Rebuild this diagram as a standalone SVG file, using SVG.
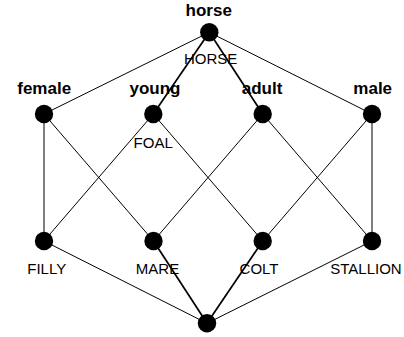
<svg xmlns="http://www.w3.org/2000/svg" width="404" height="337" viewBox="0 0 404 337">
<style>
.e{stroke:#000;stroke-width:1;fill:none}
.b{stroke:#000;stroke-width:1.7;fill:none}
.n{fill:#000}
.t{font-family:"Liberation Sans",Arial,sans-serif;font-size:17px;font-weight:bold;text-anchor:middle;fill:#000}
.o{font-family:"Liberation Sans",Arial,sans-serif;font-size:15px;text-anchor:middle;fill:#000}
</style>
<rect width="404" height="337" fill="#fff"/>
<g id="connectors">
<line class="e" x1="209.3" y1="32.3" x2="44" y2="114"/>
<line class="b" x1="209.3" y1="32.3" x2="153.3" y2="114"/>
<line class="b" x1="209.3" y1="32.3" x2="262.7" y2="114"/>
<line class="e" x1="209.3" y1="32.3" x2="372" y2="114"/>
<line class="e" x1="44" y1="114" x2="44" y2="241"/>
<line class="e" x1="44" y1="114" x2="153.5" y2="241"/>
<line class="e" x1="153.3" y1="114" x2="44" y2="241"/>
<line class="e" x1="153.3" y1="114" x2="262.7" y2="241"/>
<line class="e" x1="262.7" y1="114" x2="153.5" y2="241"/>
<line class="e" x1="262.7" y1="114" x2="372" y2="241"/>
<line class="e" x1="372" y1="114" x2="262.7" y2="241"/>
<line class="e" x1="372" y1="114" x2="372" y2="241"/>
<line class="e" x1="44" y1="241" x2="207" y2="323.3"/>
<line class="b" x1="153.5" y1="241" x2="207" y2="323.3"/>
<line class="b" x1="262.7" y1="241" x2="207" y2="323.3"/>
<line class="e" x1="372" y1="241" x2="207" y2="323.3"/>
</g>
<g id="horse"><circle class="n" cx="209.3" cy="32.3" r="9.2"/><text class="t" x="208.7" y="15.7">horse</text><text class="o" x="210.7" y="64.3">HORSE</text></g>
<g id="female"><circle class="n" cx="44" cy="114" r="9.2"/><text class="t" x="44.2" y="94">female</text></g>
<g id="young"><circle class="n" cx="153.3" cy="114" r="9.2"/><text class="t" x="155" y="94">young</text><text class="o" x="153.2" y="148.3">FOAL</text></g>
<g id="adult"><circle class="n" cx="262.7" cy="114" r="9.2"/><text class="t" x="262" y="94">adult</text></g>
<g id="male"><circle class="n" cx="372" cy="114" r="9.2"/><text class="t" x="372.7" y="94">male</text></g>
<g id="filly"><circle class="n" cx="44" cy="241" r="9.2"/><text class="o" x="46.7" y="274">FILLY</text></g>
<g id="mare"><circle class="n" cx="153.5" cy="241" r="9.2"/><text class="o" x="157.5" y="274">MARE</text></g>
<g id="colt"><circle class="n" cx="262.7" cy="241" r="9.2"/><text class="o" x="259" y="273.5">COLT</text></g>
<g id="stallion"><circle class="n" cx="372" cy="241" r="9.2"/><text class="o" x="366" y="274.3">STALLION</text></g>
<g id="bottom"><circle class="n" cx="207" cy="323.3" r="9.2"/></g>
</svg>
